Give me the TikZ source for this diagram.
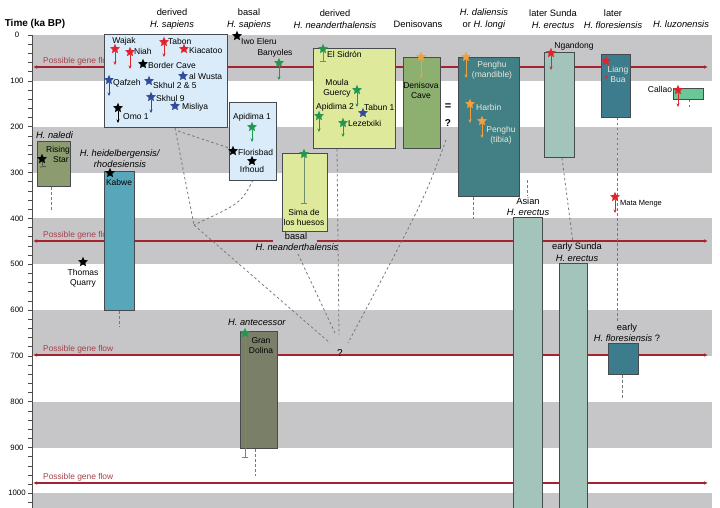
\documentclass[tikz,border=0pt]{standalone}
\usepackage{fontspec}
\setmainfont{Liberation Sans}
\usetikzlibrary{shapes.geometric,arrows.meta}
\definecolor{band}{RGB}{198,198,200}
\definecolor{gflow}{RGB}{165,35,45}
\definecolor{gflowtxt}{RGB}{165,65,75}
\definecolor{sred}{RGB}{225,35,45}
\definecolor{sblue}{RGB}{50,75,155}
\definecolor{sgreen}{RGB}{35,150,80}
\definecolor{sorange}{RGB}{240,160,60}
\definecolor{lblue}{RGB}{218,236,249}
\definecolor{lgreen}{RGB}{222,233,155}
\definecolor{dgreen}{RGB}{141,176,113}
\definecolor{dteal}{RGB}{66,128,133}
\definecolor{pteal}{RGB}{163,196,186}
\definecolor{fteal}{RGB}{60,124,140}
\definecolor{luzc}{RGB}{105,200,150}
\definecolor{olivec}{RGB}{140,156,112}
\definecolor{kteal}{RGB}{88,166,186}
\definecolor{gdolc}{RGB}{122,128,104}
\definecolor{dashc}{RGB}{120,120,120}
\definecolor{boxline}{RGB}{70,75,80}
\definecolor{lighttxt}{RGB}{232,232,218}
\definecolor{barc}{RGB}{110,140,110}
\begin{document}
\begin{tikzpicture}[x=1pt,y=-1pt,
  every node/.style={inner sep=0pt},
  lbl/.style={font=\fontsize{8.5}{10}\selectfont, align=center},
  lblw/.style={lbl, anchor=west},
  hdr/.style={font=\fontsize{9.3}{11.5}\selectfont, align=center},
  axl/.style={font=\fontsize{7.8}{9}\selectfont},
  gfl/.style={font=\fontsize{8.4}{10}\selectfont, text=gflowtxt, anchor=west},
  flow/.style={gflow, line width=1.1pt, {Latex[length=4pt,width=3.5pt]}-{Latex[length=4pt,width=3.5pt]}},
  flowl/.style={gflow, line width=1.1pt, {Latex[length=4pt,width=3.5pt]}-},
  flowr/.style={gflow, line width=1.1pt, -{Latex[length=4pt,width=3.5pt]}},
  dsh/.style={dashc, line width=0.8pt, dash pattern=on 2.5pt off 2.5pt},
  box/.style={draw=boxline, line width=0.6pt, anchor=north west},
  stshape/.style={shape=star, star points=5, star point ratio=2.2, minimum size=10.5pt},
  sr/.style={stshape, fill=sred},
  sb/.style={stshape, fill=sblue},
  sg/.style={stshape, fill=sgreen},
  so/.style={stshape, fill=sorange},
  sk/.style={stshape, fill=black},
  arr/.style={line width=0.55pt, -{Stealth[length=3.5pt,width=3pt]}},
  ebar/.style={line width=0.5pt, -{Bar[width=6pt]}},
]
\useasboundingbox (0,0) rectangle (720,508);
% bands
\fill[band] (33,35) rectangle (712,81);
\fill[band] (33,127) rectangle (712,172.5);
\fill[band] (33,218.3) rectangle (712,264.2);
\fill[band] (33,310) rectangle (712,355.8);
\fill[band] (33,401.7) rectangle (712,447.5);
\fill[band] (33,493.3) rectangle (712,508);
% axis
\draw[black!70, line width=0.6pt] (32,35) -- (32,508);
\foreach \t in {0,20,...,1020} \draw[black!70, line width=0.5pt] (28,{35+0.4583*\t}) -- (32,{35+0.4583*\t});
\foreach \t in {0,100,...,1000} \node[axl] (tk\t) at (17,{35+0.4583*\t}) {\t};
\node[font=\bfseries\fontsize{10}{12}\selectfont] (ttl) at (35,24) {Time (ka BP)};

% headers
\node[hdr] (h1) at (172,19) {derived\\\textit{H. sapiens}};
\node[hdr] (h2) at (249,19) {basal\\\textit{H. sapiens}};
\node[hdr] (h3) at (335,19) {derived\\\textit{H. neanderthalensis}};
\node[hdr] (h4) at (418,24.5) {Denisovans};
\node[hdr] (h5) at (484,19) {\textit{H. daliensis}\\or \textit{H. longi}};
\node[hdr] (h6) at (553,19) {later Sunda\\\textit{H. erectus}};
\node[hdr] (h7) at (613,19) {later\\\textit{H. floresiensis}};
\node[hdr] (h8) at (681,24.5) {\textit{H. luzonensis}};

% gene flow
\coordinate (gf1L) at (33,67); \coordinate (gf1R) at (708,67);
\draw[flow] (gf1L) -- (gf1R);
\node[gfl] (gft1) at (43,61) {Possible gene flow};
\coordinate (gf2L) at (33,241); \coordinate (gf2a) at (273,241);
\coordinate (gf2b) at (317,241); \coordinate (gf2R) at (708,241);
\draw[flowl] (gf2L) -- (gf2a);
\draw[flowr] (gf2b) -- (gf2R);
\node[gfl] (gft2) at (43,235) {Possible gene flow};
\coordinate (gf3L) at (33,355); \coordinate (gf3R) at (708,355);
\draw[flow] (gf3L) -- (gf3R);
\node[gfl] (gft3) at (43,349) {Possible gene flow};
\coordinate (gf4L) at (33,483); \coordinate (gf4R) at (708,483);
\draw[flow] (gf4L) -- (gf4R);
\node[gfl] (gft4) at (43,477) {Possible gene flow};

% dashed lineage lines
\coordinate (V) at (194,225);
\coordinate (qa) at (330,343); \coordinate (qb) at (335,333);
\coordinate (qc) at (339,335); \coordinate (qd) at (348,343);
\coordinate (ds1) at (175,128); \coordinate (ds2) at (178,131); \coordinate (bs1) at (229,148);
\coordinate (ir1) at (253,180);
\coordinate (bn1) at (298,254); \coordinate (dn1) at (337,149); \coordinate (dv1) at (446,140);
\draw[dsh] (ds1) -- (V);
\draw[dsh] (ds2) -- (bs1);
\draw[dsh] (ir1) .. controls (241,203) .. (V);
\draw[dsh] (V) -- (qa);
\draw[dsh] (bn1) -- (qb);
\draw[dsh] (dn1) -- (qc);
\draw[dsh] (dv1) .. controls (424,200) .. (qd);
\node[font=\fontsize{10}{12}\selectfont] (qmark) at (340,353) {?};
\coordinate (d1a) at (51,187); \coordinate (d1b) at (51,212);
\draw[dsh] (d1a) -- (d1b);
\coordinate (d2a) at (119,311); \coordinate (d2b) at (119,327);
\draw[dsh] (d2a) -- (d2b);
\coordinate (d3a) at (255,449); \coordinate (d3b) at (255,476);
\draw[dsh] (d3a) -- (d3b);
\coordinate (d4a) at (473,197); \coordinate (d4b) at (473,219);
\draw[dsh] (d4a) -- (d4b);
\coordinate (d5a) at (527,180); \coordinate (d5b) at (527,196);
\draw[dsh] (d5a) -- (d5b);
\coordinate (d6a) at (562,158); \coordinate (d6b) at (573,243);
\draw[dsh] (d6a) -- (d6b);
\coordinate (d7a) at (617,118); \coordinate (d7b) at (617,321);
\draw[dsh] (d7a) -- (d7b);
\coordinate (d8a) at (622,375); \coordinate (d8b) at (622,398);
\draw[dsh] (d8a) -- (d8b);
\coordinate (d9a) at (689,100); \coordinate (d9b) at (689,110);
\draw[dsh] (d9a) -- (d9b);

% boxes
\node[box, fill=lblue, minimum width=123pt, minimum height=93pt] (dsap) at (104,34) {};
\node[box, fill=lblue, minimum width=47pt, minimum height=78pt] (bsap) at (229,102) {};
\node[box, fill=lgreen, minimum width=82pt, minimum height=100pt] (dnea) at (313,48) {};
\node[box, fill=lgreen, minimum width=45pt, minimum height=78pt] (sima) at (282,153) {};
\node[box, fill=dgreen, minimum width=37pt, minimum height=91pt] (deni) at (403,57) {};
\node[box, fill=dteal, minimum width=61pt, minimum height=139pt] (dali) at (458,57) {};
\node[box, fill=pteal, minimum width=30pt, minimum height=105pt] (lsun) at (544,52) {};
\node[box, fill=fteal, minimum width=29pt, minimum height=63pt] (lflo) at (601,54) {};
\node[box, fill=luzc, minimum width=30pt, minimum height=11pt] (luzo) at (673,88) {};
\node[box, fill=olivec, minimum width=33pt, minimum height=45pt] (nale) at (37,141) {};
\node[box, fill=kteal, minimum width=30pt, minimum height=139pt] (kabw) at (104,171) {};
\node[box, fill=gdolc, minimum width=37pt, minimum height=117pt] (gdol) at (240,331) {};
\node[box, fill=pteal, minimum width=29pt, minimum height=295pt] (asia) at (513,217) {};
\node[box, fill=pteal, minimum width=28pt, minimum height=249pt] (esun) at (559,263) {};
\node[box, fill=fteal, minimum width=30pt, minimum height=31pt] (eflo) at (608,343) {};

% derived H. sapiens
\node[sr] (wajak) at (115,49) {}; \node[lbl] (wajakL) at (124,41) {Wajak};
\coordinate (wajakE) at (115,65); \draw[arr, sred] (wajak) -- (wajakE);
\node[sr] (niah) at (130,52) {}; \node[lblw] (niahL) at (134,51) {Niah};
\coordinate (niahE) at (130,69); \draw[arr, sred] (niah) -- (niahE);
\node[sr] (tabon) at (164,42) {}; \node[lblw] (tabonL) at (168,41) {Tabon};
\coordinate (tabonE) at (164,57); \draw[arr, sred] (tabon) -- (tabonE);
\node[sr] (kiac) at (184,49) {}; \node[lblw] (kiacL) at (189,50) {Kiacatoo};
\node[sk] (bcave) at (143,64) {}; \node[lblw] (bcaveL) at (148,65) {Border Cave};
\node[sb] (wusta) at (183,76) {}; \node[lblw] (wustaL) at (189,76) {al Wusta};
\node[sb] (qafz) at (109,80) {}; \node[lblw] (qafzL) at (113,83) {Qafzeh};
\coordinate (qafzE) at (109,96); \draw[arr, sblue] (qafz) -- (qafzE);
\node[sb] (skh25) at (149,81) {}; \node[lblw] (skh25L) at (153,85) {Skhul 2 \& 5};
\node[sb] (skh9) at (151,97) {}; \node[lblw] (skh9L) at (156,98) {Skhul 9};
\coordinate (skh9E) at (151,113); \draw[arr, sblue] (skh9) -- (skh9E);
\node[sb] (misl) at (175,106) {}; \node[lblw] (mislL) at (182,107) {Misliya};
\node[sk] (omo) at (118,108) {}; \node[lblw] (omoL) at (123,117) {Omo 1};
\coordinate (omoE) at (118,123); \draw[arr, black] (omo) -- (omoE);

% basal H. sapiens
\node[sk] (iwo) at (237,36) {}; \node[lblw] (iwoL) at (241,41) {Iwo Eleru};
\node[lbl] (banyL) at (275,53) {Banyoles};
\node[sg] (bany) at (279,63) {};
\coordinate (banyE) at (279,80); \draw[arr, sgreen] (bany) -- (banyE);
\node[lbl] (apid1L) at (252,117) {Apidima 1};
\node[sg] (apid1) at (252,127) {};
\coordinate (apid1E) at (252,142); \draw[arr, sgreen] (apid1) -- (apid1E);
\node[sk] (flor) at (233,151) {}; \node[lblw] (florL) at (238,152) {Florisbad};
\node[sk] (irh) at (252,161) {}; \node[lbl] (irhL) at (252,169.5) {Irhoud};

% derived neanderthals
\node[sg] (sidr) at (323,49) {}; \node[lblw] (sidrL) at (327,54) {El Sidrón};
\coordinate (sidrE) at (323,62); \draw[ebar, barc] (sidr) -- (sidrE);
\node[lbl] (moulaL) at (337,88) {Moula\\Guercy};
\node[sg] (moula) at (357,90) {};
\coordinate (moulaE) at (357,107); \draw[arr, sgreen] (moula) -- (moulaE);
\node[lbl] (apid2L) at (335,107) {Apidima 2};
\node[sg] (apid2) at (319,116) {};
\coordinate (apid2E) at (319,132); \draw[arr, sgreen] (apid2) -- (apid2E);
\node[lblw] (tabunL) at (364,107) {Tabun 1};
\node[sb] (tabun) at (363,113) {};
\node[sg] (lezx) at (343,123) {}; \node[lblw] (lezxL) at (348,123) {Lezetxiki};
\coordinate (lezxE) at (343,137); \draw[arr, sgreen] (lezx) -- (lezxE);

% Sima de los huesos
\node[sg] (sima1) at (304,154) {};
\coordinate (simaE) at (304,203); \draw[ebar, barc] (sima1) -- (simaE);
\node[lbl] (simaL) at (304,217) {Sima de\\los huesos};
\node[lbl, fill=band, inner xsep=2pt, font=\fontsize{9.3}{11}\selectfont] (basalN) at (296,236) {basal};
\node[hdr] (basalN2) at (297,247.5) {\textit{H. neanderthalensis}};

% Denisovans
\node[so] (deniS) at (421,57) {};
\coordinate (deniE) at (421,78); \draw[arr, sorange] (deniS) -- (deniE);
\node[lbl] (deniL) at (421,90) {Denisova\\Cave};
\node[font=\bfseries\fontsize{11}{12}\selectfont] (eqs) at (448,107) {=};
\node[font=\bfseries\fontsize{10}{12}\selectfont] (eqq) at (448,123) {?};

% H. daliensis / longi
\node[so] (pengm) at (466,57) {};
\coordinate (pengmE) at (466,78); \draw[arr, sorange] (pengm) -- (pengmE);
\node[lbl, text=lighttxt] (pengmL) at (492,70) {Penghu\\(mandible)};
\node[so] (harb) at (470,104) {};
\coordinate (harbE) at (470,123); \draw[arr, sorange] (harb) -- (harbE);
\node[lblw, text=lighttxt] (harbL) at (476,107) {Harbin};
\node[so] (pengt) at (482,121) {};
\coordinate (pengtE) at (482,138); \draw[arr, sorange] (pengt) -- (pengtE);
\node[lbl, text=lighttxt] (pengtL) at (501,135) {Penghu\\(tibia)};

% later Sunda H. erectus
\node[lbl] (ngaL) at (574,46) {Ngandong};
\node[sr] (nga) at (551,53) {};
\coordinate (ngaE) at (551,70); \draw[arr, sred] (nga) -- (ngaE);

% later H. floresiensis
\node[sr] (lbua) at (606,61) {};
\node[circle, fill=sred, minimum size=3.5pt] (lbdot) at (606,77) {};
\node[lbl, text=lighttxt] (lbuaL) at (618,74.5) {Liang\\Bua};
\node[sr] (mata) at (615,197) {};
\coordinate (mataE) at (615,213); \draw[arr, sred] (mata) -- (mataE);
\node[lblw, font=\fontsize{7.5}{9}\selectfont] (mataL) at (620,204) {Mata Menge};
\node[hdr] (efloL) at (627,332.5) {early\\\textit{H. floresiensis} ?};

% H. luzonensis
\node[lbl] (callL) at (660,89) {Callao};
\node[sr] (call) at (678,90) {};
\coordinate (callE) at (678,107); \draw[arr, sred] (call) -- (callE);

% H. naledi
\node[hdr, anchor=west] (naledi) at (36,135) {\textit{H. naledi}};
\node[lbl] (risL) at (58,154.5) {Rising\\\hspace*{6pt}Star};
\node[sk] (ris) at (42,159) {};
\coordinate (risE) at (43,167); \draw[ebar, black!80] (ris) -- (risE);

% heidelbergensis
\node[hdr] (heid) at (120,158.5) {\textit{H. heidelbergensis/}\\\textit{rhodesiensis}};
\node[sk] (kabS) at (110,173) {};
\node[lbl] (kabL) at (119,182) {Kabwe};
\node[sk] (thom) at (83,262) {};
\node[lbl] (thomL) at (83,278.5) {Thomas\\Quarry};

% antecessor
\node[hdr] (ante) at (257,322) {\textit{H. antecessor}};
\node[sg] (gdS) at (245,333) {};
\coordinate (gdE) at (245,457); \draw[ebar, barc] (gdS) -- (gdE);
\node[lbl] (gdL) at (261,346) {Gran\\Dolina};

% erectus labels
\node[hdr] (asiaL) at (528,206.5) {Asian\\\textit{H. erectus}};
\node[hdr] (esunL) at (577,252) {early Sunda\\\textit{H. erectus}};
\end{tikzpicture}
\end{document}
